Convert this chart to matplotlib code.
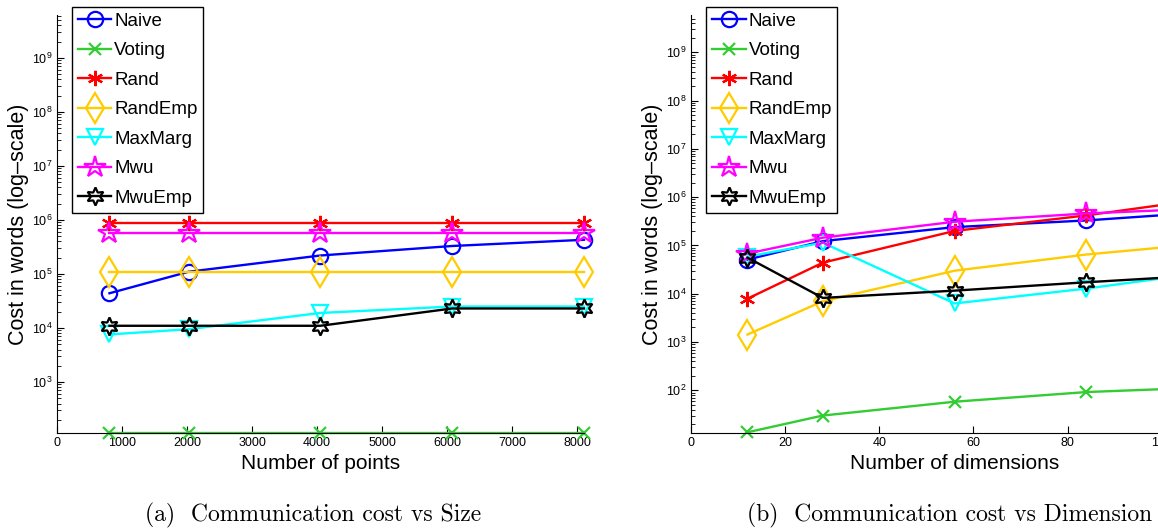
import matplotlib.pyplot as plt
from matplotlib.ticker import LogLocator, NullFormatter, MultipleLocator

plt.rcParams['font.family'] = ['Liberation Sans', 'DejaVu Sans']

# ---- data (a): cost vs number of points ----
sizes = [810, 2025, 4050, 6075, 8100]
a_naive = [4.4e4, 1.1e5, 2.2e5, 3.3e5, 4.3e5]
a_voting = [116, 116, 116, 116, 116]
a_rand = [8.8e5, 8.8e5, 8.8e5, 8.8e5, 8.8e5]
a_randemp = [1.1e5, 1.1e5, 1.1e5, 1.1e5, 1.1e5]
a_maxmarg = [7.6e3, 9.5e3, 1.9e4, 2.5e4, 2.5e4]
a_mwu = [5.7e5, 5.7e5, 5.7e5, 5.7e5, 5.7e5]
a_mwuemp = [1.1e4, 1.1e4, 1.1e4, 2.3e4, 2.3e4]

# ---- data (b): cost vs number of dimensions ----
dims = [12, 28, 56, 84, 112]
b_naive = [5.1e4, 1.23e5, 2.4e5, 3.3e5, 5.1e5]
b_voting = [13.5, 30, 58, 92, 117]
b_rand = [7.9e3, 4.4e4, 2.0e5, 4.2e5, 1.0e6]
b_randemp = [1.43e3, 7.0e3, 3.0e4, 6.5e4, 1.16e5]
b_maxmarg = [5.9e4, 1.14e5, 6.3e3, 1.28e4, 3.0e4]
b_mwu = [6.8e4, 1.45e5, 3.1e5, 4.6e5, 6.0e5]
b_mwuemp = [5.6e4, 8.2e3, 1.16e4, 1.73e4, 2.5e4]

labels = ['Naive', 'Voting', 'Rand', 'RandEmp', 'MaxMarg', 'Mwu', 'MwuEmp']
colors = ['#0000ff', '#33cc33', '#ff0000', '#ffcc00', '#00ffff', '#ff00ff', '#000000']
markers = ['o', 'x', (6, 2, 0), 'd', 'v', '*', (6, 1, 0)]
msizes = [11, 8, 11, 15, 12, 16, 13]

fig = plt.figure(figsize=(11.58, 5.31), dpi=100)
ax1 = fig.add_axes([0.049, 0.185, 0.4553, 0.7865])
ax2 = fig.add_axes([0.5967, 0.185, 0.4553, 0.7865])


def draw(ax, x, series, xlim, ylim, xstep, xlabel):
    for y, lab, c, m, s in zip(series, labels, colors, markers, msizes):
        ax.plot(x, y, color=c, lw=1.7, marker=m, ms=s, mfc='none', mec=c,
                mew=1.6, label=lab, clip_on=False)
    ax.set_yscale('log')
    ax.set_xlim(*xlim)
    ax.set_ylim(*ylim)
    ax.xaxis.set_major_locator(MultipleLocator(xstep))
    ax.yaxis.set_major_locator(LogLocator(base=10, numticks=20))
    ax.yaxis.set_minor_locator(LogLocator(base=10, subs=range(2, 10), numticks=100))
    ax.yaxis.set_minor_formatter(NullFormatter())
    ax.spines['top'].set_visible(False)
    ax.spines['right'].set_visible(False)
    ax.tick_params(which='both', direction='in', labelsize=9, pad=3)
    ax.tick_params(which='major', length=5)
    ax.tick_params(which='minor', length=3)
    ax.set_xlabel(xlabel, fontsize=15, labelpad=4)
    ax.set_ylabel('Cost in words (log\u2013scale)', fontsize=15.5, labelpad=2)
    leg = ax.legend(loc='upper left', bbox_to_anchor=(0.029, 1.019), borderaxespad=0,
                    fontsize=13.5, fancybox=False, framealpha=1, edgecolor='black',
                    handlelength=1.8, handletextpad=0.15, labelspacing=0.66,
                    borderpad=0.3)
    leg.get_frame().set_linewidth(1.0)


draw(ax1, sizes, [a_naive, a_voting, a_rand, a_randemp, a_maxmarg, a_mwu, a_mwuemp],
     (0, 8100), (115, 6.2e9), 1000, 'Number of points')
draw(ax2, dims, [b_naive, b_voting, b_rand, b_randemp, b_maxmarg, b_mwu, b_mwuemp],
     (0, 112), (13.2, 5.9e9), 20, 'Number of dimensions')

fig.text(0.270, 0.030, '(a)  Communication cost vs Size', family='cmr10',
         fontsize=17, ha='center', va='center')
fig.text(0.820, 0.030, '(b)  Communication cost vs Dimension', family='cmr10',
         fontsize=17, ha='center', va='center')

fig.savefig('out.png', dpi=100)
